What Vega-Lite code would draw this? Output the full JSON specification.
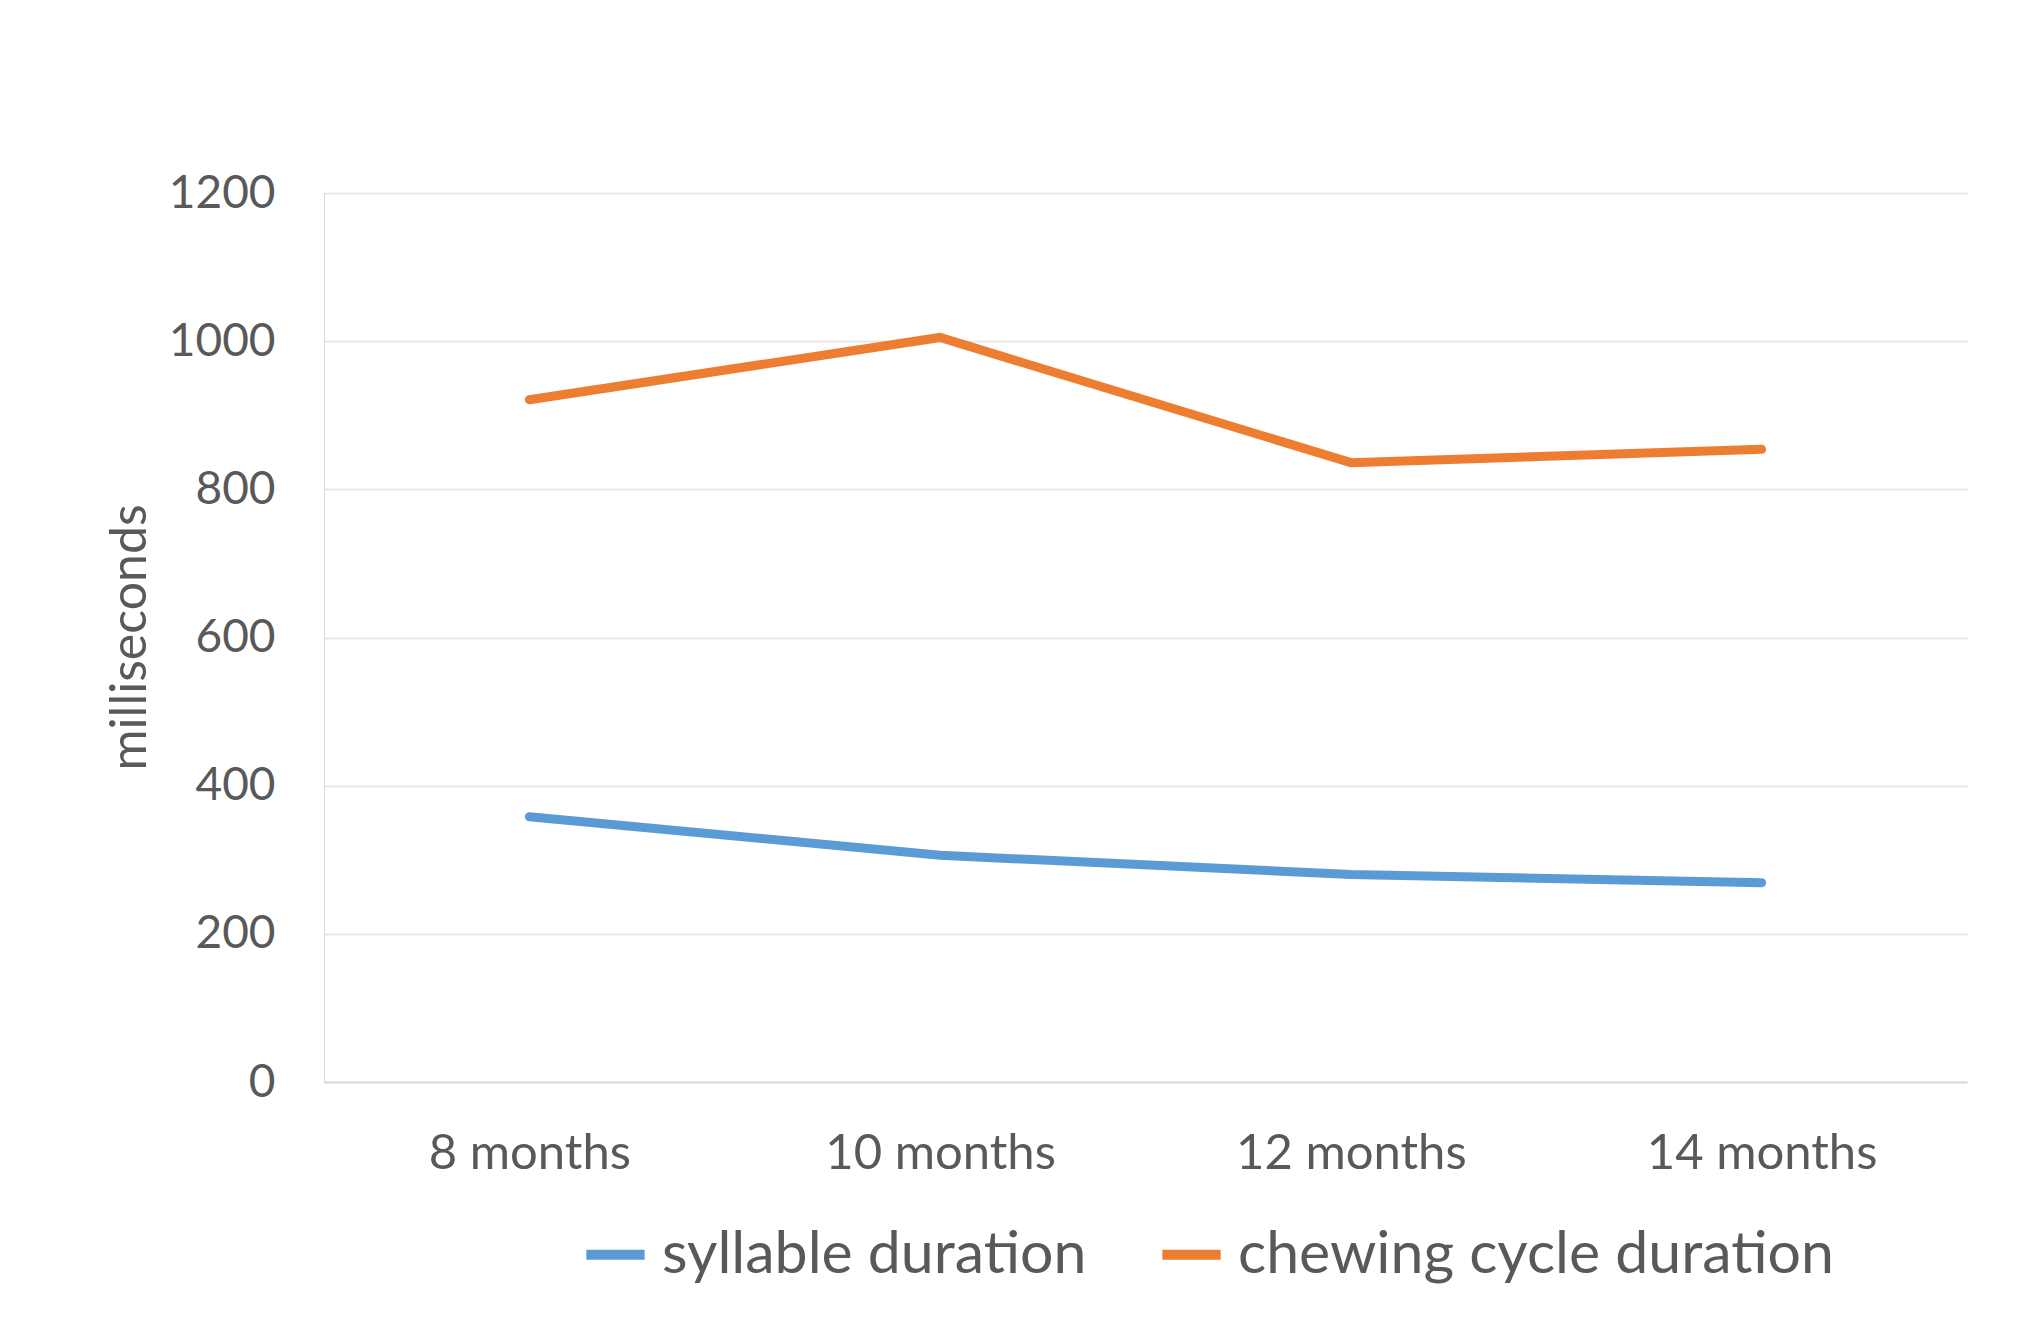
{
  "$schema": "https://vega.github.io/schema/vega-lite/v6.json",
  "width": 1643,
  "height": 889,
  "autosize": {"type": "none"},
  "padding": {"left": 324, "top": 193, "right": 67, "bottom": 245},
  "background": "white",
  "data": {
    "values": [
      {"age": "8 months", "series": "syllable duration", "ms": 358},
      {"age": "10 months", "series": "syllable duration", "ms": 306},
      {"age": "12 months", "series": "syllable duration", "ms": 280},
      {"age": "14 months", "series": "syllable duration", "ms": 269},
      {"age": "8 months", "series": "chewing cycle duration", "ms": 921},
      {"age": "10 months", "series": "chewing cycle duration", "ms": 1005},
      {"age": "12 months", "series": "chewing cycle duration", "ms": 836},
      {"age": "14 months", "series": "chewing cycle duration", "ms": 854}
    ]
  },
  "mark": {"type": "line", "strokeWidth": 9, "strokeCap": "round", "strokeJoin": "miter"},
  "encoding": {
    "x": {
      "field": "age", "type": "nominal",
      "sort": ["8 months", "10 months", "12 months", "14 months"],
      "scale": {"type": "point", "padding": 0.5},
      "axis": {
        "title": null, "labelAngle": 0, "ticks": false, "grid": false,
        "domainColor": "#d9d9d9", "domainWidth": 2, "labelLimit": 1000,
        "labelPadding": 47, "labelFontSize": 49, "labelFont": "Lato", "labelColor": "#595959"
      }
    },
    "y": {
      "field": "ms", "type": "quantitative",
      "scale": {"domain": [0, 1200], "nice": false},
      "axis": {
        "values": [0, 200, 400, 600, 800, 1000, 1200], "format": "d",
        "title": "milliseconds", "titleFont": "Lato", "titleFontSize": 50, "titleFontWeight": "normal",
        "titleColor": "#595959", "titleX": -194, "titleY": 444, "titleBaseline": "middle", "titleAngle": -90,
        "ticks": false, "domainColor": "#d9d9d9", "domainWidth": 1,
        "gridColor": "#e3e3e3", "gridWidth": 1.5,
        "labelPadding": 49, "labelFontSize": 46, "labelFont": "Lato", "labelColor": "#595959"
      }
    },
    "color": {
      "field": "series", "type": "nominal",
      "sort": ["syllable duration", "chewing cycle duration"],
      "scale": {"domain": ["syllable duration", "chewing cycle duration"], "range": ["#5B9BD5", "#ED7D31"]},
      "legend": {
        "title": null, "orient": "none", "direction": "horizontal",
        "legendX": 257, "legendY": 1027,
        "symbolType": "stroke", "symbolStrokeWidth": 10, "symbolSize": 3400,
        "labelFont": "Lato", "labelFontSize": 59, "labelColor": "#595959",
        "labelOffset": 12, "columnPadding": 55, "labelLimit": 1000
      }
    }
  },
  "config": {"view": {"stroke": null}}
}
